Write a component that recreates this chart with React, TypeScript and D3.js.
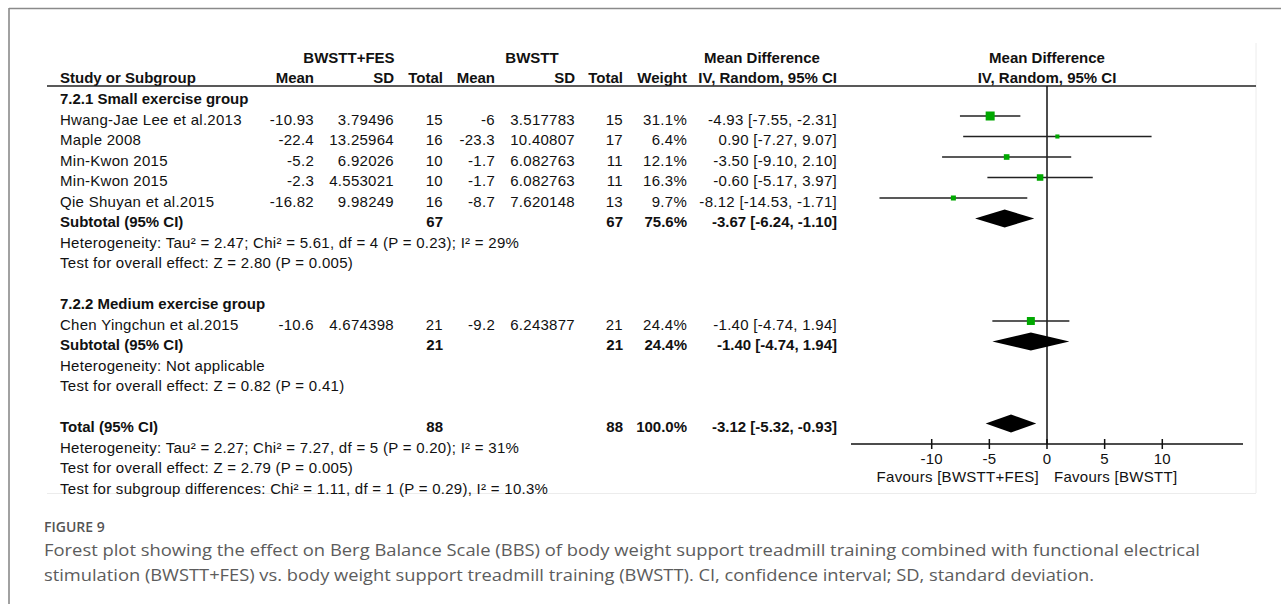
import React from "react";
import * as d3 from "d3";

// ---------- data ----------
const groupTitles = ["7.2.1 Small exercise group", "7.2.2 Medium exercise group"];
const studyNames = [
  "Hwang-Jae Lee et al.2013",
  "Maple 2008",
  "Min-Kwon 2015",
  "Min-Kwon 2015",
  "Qie Shuyan et al.2015",
  "Chen Yingchun et al.2015",
];
const expMean = [-10.93, -22.4, -5.2, -2.3, -16.82, -10.6];
const expSD = [3.79496, 13.25964, 6.92026, 4.553021, 9.98249, 4.674398];
const expN = [15, 16, 10, 10, 16, 21];
const ctlMean = [-6, -23.3, -1.7, -1.7, -8.7, -9.2];
const ctlSD = [3.517783, 10.40807, 6.082763, 6.082763, 7.620148, 6.243877];
const ctlN = [15, 17, 11, 11, 13, 21];
const weights = [31.1, 6.4, 12.1, 16.3, 9.7, 24.4];
const md = [-4.93, 0.9, -3.5, -0.6, -8.12, -1.4];
const ciLo = [-7.55, -7.27, -9.1, -5.17, -14.53, -4.74];
const ciHi = [-2.31, 9.07, 2.1, 3.97, -1.71, 1.94];

const subN1 = [67, 21];
const subN2 = [67, 21];
const subWeight = [75.6, 24.4];
const subMd = [-3.67, -1.4];
const subLo = [-6.24, -4.74];
const subHi = [-1.1, 1.94];
const subHet = [
  "Heterogeneity: Tau\u00b2 = 2.47; Chi\u00b2 = 5.61, df = 4 (P = 0.23); I\u00b2 = 29%",
  "Heterogeneity: Not applicable",
];
const subTest = [
  "Test for overall effect: Z = 2.80 (P = 0.005)",
  "Test for overall effect: Z = 0.82 (P = 0.41)",
];

const totN1 = 88;
const totN2 = 88;
const totWeight = 100.0;
const totMd = -3.12;
const totLo = -5.32;
const totHi = -0.93;
const totLines = [
  "Heterogeneity: Tau\u00b2 = 2.27; Chi\u00b2 = 7.27, df = 5 (P = 0.20); I\u00b2 = 31%",
  "Test for overall effect: Z = 2.79 (P = 0.005)",
  "Test for subgroup differences: Chi\u00b2 = 1.11, df = 1 (P = 0.29), I\u00b2 = 10.3%",
];

const axisTicks = [-10, -5, 0, 5, 10];
const axisDomain = [-17, 17];
const favourLeft = "Favours [BWSTT+FES]";
const favourRight = "Favours [BWSTT]";

const captionTitle = "FIGURE 9";
const captionLines = [
  "Forest plot showing the effect on Berg Balance Scale (BBS) of body weight support treadmill training combined with functional electrical",
  "stimulation (BWSTT+FES) vs. body weight support treadmill training (BWSTT). CI, confidence interval; SD, standard deviation.",
];

// ---------- layout ----------
const W = 1281;
const H = 604;
const FONT = "'Liberation Sans', Arial, sans-serif";
const FS = 15;
const rowY = (i: number) => 99 + 20.5 * i;
const BASE = 5;
const MK = -3.5;

const col = {
  name: 60,
  eMean: 314,
  eSD: 394,
  eN: 443,
  cMean: 495,
  cSD: 575,
  cN: 623,
  w: 687,
  ci: 837,
};

const x = d3.scaleLinear().domain(axisDomain).range([851, 1243]);
const size = d3.scaleSqrt().domain([0, 31.1]).range([0, 9]);

const f2 = (v: number) => v.toFixed(2);
const fmtCI = (m: number, l: number, h: number) => `${f2(m)} [${f2(l)}, ${f2(h)}]`;
const fmtW = (w: number) => `${w.toFixed(1)}%`;

function T(props: any) {
  const { x, y, anchor = "start", bold = false, children, size = FS, fill = "#111", ...rest } = props;
  return (
    <text
      x={x}
      y={y}
      textAnchor={anchor}
      fontFamily={FONT}
      fontSize={size}
      fontWeight={bold ? "bold" : "normal"}
      letterSpacing={bold ? 0 : 0.28}
      fill={fill}
      {...rest}
    >
      {children}
    </text>
  );
}

function Diamond({ m, l, h, cy }: { m: number; l: number; h: number; cy: number }) {
  const hh = 9;
  const p = d3.path();
  p.moveTo(x(l), cy);
  p.lineTo(x(m), cy - hh);
  p.lineTo(x(h), cy);
  p.lineTo(x(m), cy + hh);
  p.closePath();
  return <path d={p.toString()} fill="#000" />;
}

export default function App() {
  const studyRows = [1, 2, 3, 4, 5, 11];
  const groupRows = [0, 10];
  const subRows = [6, 12];
  const hetRows = [7, 13];
  const testRows = [8, 14];
  const totRow = 16;
  const axisY = 444;

  return (
    <svg width={W} height={H} style={{ position: "absolute", left: 0, top: 0 }}>
      <rect x={0} y={0} width={W} height={H} fill="#fff" />
      {/* outer frame */}
      <line x1={9} y1={8.5} x2={W} y2={8.5} stroke="#8a8a8a" strokeWidth={1.6} />
      <line x1={9} y1={8} x2={9} y2={H} stroke="#8a8a8a" strokeWidth={1.6} />
      {/* faint image border */}
      <line x1={1256} y1={43} x2={1256} y2={493} stroke="#ececec" strokeWidth={1} />
      <line x1={47} y1={493.5} x2={1256} y2={493.5} stroke="#ececec" strokeWidth={1} />

      {/* header row 1 */}
      <T x={349} y={63} anchor="middle" bold>BWSTT+FES</T>
      <T x={532} y={63} anchor="middle" bold>BWSTT</T>
      <T x={762} y={63} anchor="middle" bold>Mean Difference</T>
      <T x={1047} y={63} anchor="middle" bold>Mean Difference</T>
      {/* header row 2 */}
      <T x={col.name} y={83} bold>Study or Subgroup</T>
      <T x={col.eMean} y={83} anchor="end" bold>Mean</T>
      <T x={col.eSD} y={83} anchor="end" bold>SD</T>
      <T x={col.eN} y={83} anchor="end" bold>Total</T>
      <T x={col.cMean} y={83} anchor="end" bold>Mean</T>
      <T x={col.cSD} y={83} anchor="end" bold>SD</T>
      <T x={col.cN} y={83} anchor="end" bold>Total</T>
      <T x={col.w} y={83} anchor="end" bold>Weight</T>
      <T x={col.ci} y={83} anchor="end" bold>IV, Random, 95% CI</T>
      <T x={1047} y={83} anchor="middle" bold>IV, Random, 95% CI</T>
      <line x1={47} y1={86} x2={1256} y2={86} stroke="#222" strokeWidth={1.5} />

      {/* zero line */}
      <line x1={x(0)} y1={86} x2={x(0)} y2={axisY} stroke="#111" strokeWidth={1.5} />

      {/* group headings */}
      {groupRows.map((r, g) => (
        <T key={"g" + g} x={col.name} y={rowY(r) + BASE} bold>
          {groupTitles[g]}
        </T>
      ))}

      {/* studies */}
      {studyNames.map((n, i) => {
        const cy = rowY(studyRows[i]);
        const y = cy + BASE;
        const s = size(weights[i]);
        const my = cy + MK;
        return (
          <g key={"s" + i}>
            <T x={col.name} y={y}>{n}</T>
            <T x={col.eMean} y={y} anchor="end">{String(expMean[i])}</T>
            <T x={col.eSD} y={y} anchor="end">{String(expSD[i])}</T>
            <T x={col.eN} y={y} anchor="end">{String(expN[i])}</T>
            <T x={col.cMean} y={y} anchor="end">{String(ctlMean[i])}</T>
            <T x={col.cSD} y={y} anchor="end">{String(ctlSD[i])}</T>
            <T x={col.cN} y={y} anchor="end">{String(ctlN[i])}</T>
            <T x={col.w} y={y} anchor="end">{fmtW(weights[i])}</T>
            <T x={col.ci} y={y} anchor="end">{fmtCI(md[i], ciLo[i], ciHi[i])}</T>
            <line x1={x(ciLo[i])} x2={x(ciHi[i])} y1={my} y2={my} stroke="#222" strokeWidth={1.5} />
            <rect x={x(md[i]) - s / 2} y={my - s / 2} width={s} height={s} fill="#00a800" />
          </g>
        );
      })}

      {/* subtotals */}
      {subRows.map((r, g) => {
        const cy = rowY(r);
        const y = cy + BASE;
        return (
          <g key={"sub" + g}>
            <T x={col.name} y={y} bold>Subtotal (95% CI)</T>
            <T x={col.eN} y={y} anchor="end" bold>{String(subN1[g])}</T>
            <T x={col.cN} y={y} anchor="end" bold>{String(subN2[g])}</T>
            <T x={col.w} y={y} anchor="end" bold>{fmtW(subWeight[g])}</T>
            <T x={col.ci} y={y} anchor="end" bold>{fmtCI(subMd[g], subLo[g], subHi[g])}</T>
            <Diamond m={subMd[g]} l={subLo[g]} h={subHi[g]} cy={cy + MK} />
            <T x={col.name} y={rowY(hetRows[g]) + BASE}>{subHet[g]}</T>
            <T x={col.name} y={rowY(testRows[g]) + BASE}>{subTest[g]}</T>
          </g>
        );
      })}

      {/* total */}
      <g>
        <T x={col.name} y={rowY(totRow) + BASE} bold>Total (95% CI)</T>
        <T x={col.eN} y={rowY(totRow) + BASE} anchor="end" bold>{String(totN1)}</T>
        <T x={col.cN} y={rowY(totRow) + BASE} anchor="end" bold>{String(totN2)}</T>
        <T x={col.w} y={rowY(totRow) + BASE} anchor="end" bold>{fmtW(totWeight)}</T>
        <T x={col.ci} y={rowY(totRow) + BASE} anchor="end" bold>{fmtCI(totMd, totLo, totHi)}</T>
        <Diamond m={totMd} l={totLo} h={totHi} cy={rowY(totRow) + MK} />
        {totLines.map((t, k) => (
          <T key={"tl" + k} x={col.name} y={rowY(totRow + 1 + k) + BASE}>{t}</T>
        ))}
      </g>

      {/* axis */}
      <line x1={x(axisDomain[0])} x2={x(axisDomain[1])} y1={axisY} y2={axisY} stroke="#111" strokeWidth={1.5} />
      {axisTicks.map((t) => (
        <g key={"t" + t}>
          <line x1={x(t)} x2={x(t)} y1={axisY - 5} y2={axisY + 5} stroke="#111" strokeWidth={1.5} />
          <T x={x(t)} y={464} anchor="middle">{String(t)}</T>
        </g>
      ))}
      <T x={1039} y={482} anchor="end">{favourLeft}</T>
      <T x={1054} y={482}>{favourRight}</T>

      {/* caption */}
      <text x={44} y={532} fontFamily="'Open Sans', 'Noto Sans', sans-serif" fontSize={14} fontWeight={600} fill="#555">
        {captionTitle}
      </text>
      {captionLines.map((c, k) => (
        <text
          key={"c" + k}
          x={44}
          y={556 + 25 * k}
          fontFamily="'Open Sans', 'Noto Sans', sans-serif"
          fontSize={17}
          fill="#5c5c5c"
          textLength={k === 0 ? 1156 : 1050}
          lengthAdjust="spacingAndGlyphs"
        >
          {c}
        </text>
      ))}
    </svg>
  );
}
